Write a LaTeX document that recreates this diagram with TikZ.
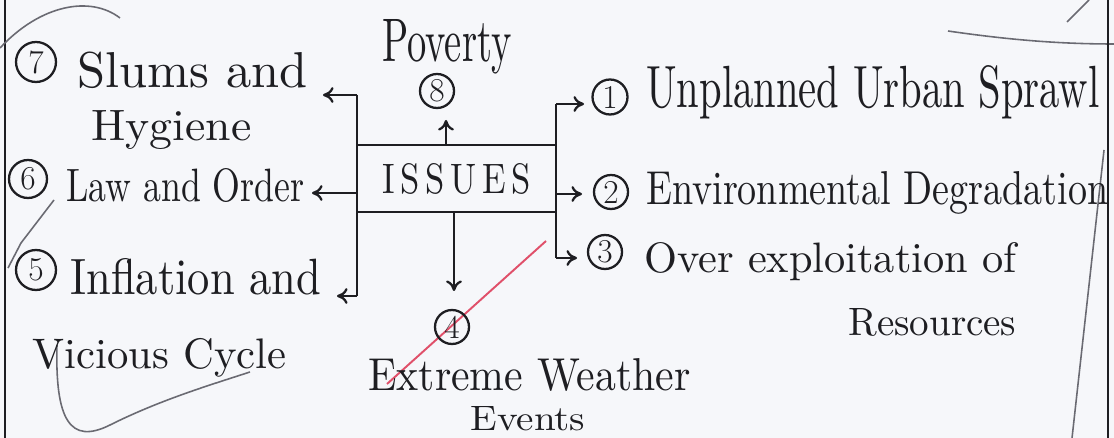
\documentclass[tikz,border=0pt]{standalone}
\usetikzlibrary{arrows.meta}
\newlength\pxu \setlength\pxu{0.02cm}
\newcommand\fitw[2]{\resizebox{#1\pxu}{!}{#2}}
\newcommand\fitwh[3]{\resizebox{#1\pxu}{#2\pxu}{#3}}
\definecolor{paper}{HTML}{F6F7FA}
\definecolor{ink}{HTML}{1E1E22}
\definecolor{redpen}{HTML}{E0506A}
\definecolor{faint}{HTML}{6A6A72}
\begin{document}
\begin{tikzpicture}[x=0.02cm,y=-0.02cm,
  conn/.style={draw=ink, line width=1.3pt},
  arr/.style={conn,-{To[length=6pt,width=9pt]}},
  lbl/.style={inner sep=0pt, anchor=base west, text=ink},
  num/.style={circle, draw=ink, line width=1.3pt, inner sep=0pt, minimum size=#1, font=\fontsize{19}{19}\selectfont, text=ink},
  stray/.style={draw=faint, line width=0.9pt}
]
\fill[paper] (0,0) rectangle (1114,438);
\useasboundingbox (0,0) rectangle (1114,438);
\clip (0,0) rectangle (1114,438);

% stray marks on the page
\draw[redpen, line width=1.1pt] (546,241) -- (387,384);
\draw[draw=ink, line width=1.1pt] (5,0) -- (5,438);
\draw[stray] (57,345) .. controls (55,420) and (70,445) .. (110,425) .. controls (160,400) and (210,385) .. (250,372);
\draw[stray] (0,48) .. controls (40,5) and (90,-5) .. (120,18);
\draw[stray] (54,200) -- (21,243) -- (8,268);
\draw[stray] (948,31) .. controls (1010,40) and (1060,44) .. (1114,44);
\draw[stray] (1067,22) -- (1089,0);
\draw[draw=ink, line width=1pt] (1108,0) -- (1108,438);
\draw[stray] (1104,150) -- (1072,438);

% central box
\node[draw=ink, line width=1.4pt, minimum width=3.98cm, minimum height=1.34cm, inner sep=0pt, text=ink] (issues) at (456.5,178.5) {\fitwh{149}{30}{I\,S\,S\,U\,E\,S}};

% labels
\node[lbl] (t7) at (77,88) {\fitw{230}{Slums and}};
\node[lbl] (t7b) at (91,141) {\fitwh{160}{30}{Hygiene}};
\node[lbl] (t6) at (66,202) {\fitwh{238}{33}{Law and Order}};
\node[lbl] (t5) at (70,295) {\fitwh{251}{36}{Inflation and}};
\node[lbl] (t5b) at (32,368) {\fitw{254}{Vicious Cycle}};
\node[lbl] (t8) at (382,62) {\fitwh{129}{42}{Poverty}};
\node[lbl] (t4) at (368,390) {\fitwh{322}{32}{Extreme Weather}};
\node[lbl] (t4b) at (470,430) {\fitwh{115}{24}{Events}};
\node[lbl] (t1) at (646,108) {\fitwh{453}{42}{Unplanned Urban Sprawl}};
\node[lbl] (t2) at (646,205) {\fitwh{462}{33}{Environmental Degradation}};
\node[lbl] (t3) at (644,273) {\fitwh{372}{30}{Over exploitation of}};
\node[lbl] (t3b) at (848,336) {\fitwh{168}{27}{Resources}};

% circled numbers
\node[num=0.8cm] (c7) at (36,62) {7};
\node[num=0.76cm] (c6) at (28,179) {6};
\node[num=0.8cm] (c5) at (36,270) {5};
\node[num=0.68cm] (c8) at (437,91) {8};
\node[num=0.68cm] (c4) at (452,327) {4};
\node[num=0.7cm] (c1) at (610,97) {1};
\node[num=0.68cm] (c2) at (611,192) {2};
\node[num=0.68cm] (c3) at (605,252) {3};

% connectors
\coordinate (lt) at (357,95);
\coordinate (lb) at (357,296);
\coordinate (a7) at (323,95);
\coordinate (a6) at (312,193);
\coordinate (a5) at (337,296);
\draw[conn] (lt) -- (lb);
\draw[arr] (lt) -- (a7);
\draw[arr] (issues.west |- a6) -- (a6);
\draw[arr] (lb) -- (a5);
\coordinate (a8) at (446,120);
\draw[arr] (issues.north -| a8) -- (a8);
\coordinate (a4) at (454,291);
\draw[arr] (issues.south -| a4) -- (a4);
\coordinate (rt) at (556,104);
\coordinate (rb) at (556,258);
\coordinate (a1) at (584,104);
\coordinate (a2) at (582,194);
\coordinate (a3) at (577,258);
\draw[conn] (rt) -- (rb);
\draw[arr] (rt) -- (a1);
\draw[arr] (issues.east |- a2) -- (a2);
\draw[arr] (rb) -- (a3);
\end{tikzpicture}
\end{document}
